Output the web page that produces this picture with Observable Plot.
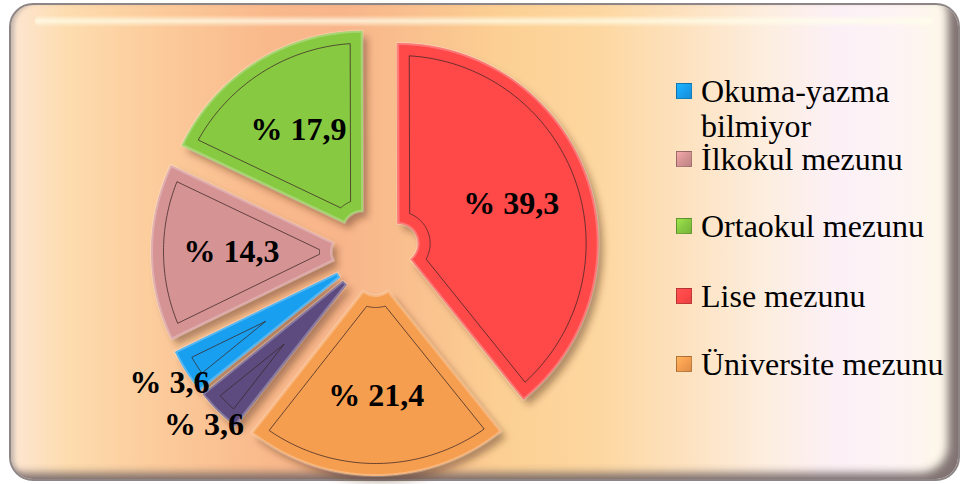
<!DOCTYPE html>
<html>
<head>
<meta charset="utf-8">
<script src="https://cdn.jsdelivr.net/npm/d3@7"></script>
<script src="https://cdn.jsdelivr.net/npm/@observablehq/plot@0.6"></script>
<style>
  html, body { margin: 0; padding: 0; background: #ffffff; }
  #wrap { position: relative; width: 965px; height: 484px; overflow: hidden; }
  #panel {
    position: absolute; left: 9px; top: 3px; width: 947px; height: 474px;
    border-radius: 24px; border: 2px solid #8e8686;
    background: linear-gradient(to right, #fde6d2 0%, #fddcae 6%, #fccc9c 15%, #f9b98b 27%, #f8b58a 35%, #fac48f 45%, #fcd094 52%, #fdd7a0 62%, #fde3c2 72%, #fdeee0 80%, #fcf0f6 87%, #fdf3f5 93%, #fdf7ea 98%);
    box-shadow: inset -16px -12px 8px -6px rgba(118,104,104,0.92), inset 5px 0 4px -2px rgba(150,140,140,0.55);
  }
  #hl {
    position: absolute; left: 24px; right: 26px; top: 10px; height: 12px; border-radius: 8px;
    background: linear-gradient(to bottom, rgba(255,255,235,0) 0%, rgba(255,255,235,0.75) 50%, rgba(255,255,235,0) 100%);
  }
  #chart { position: absolute; left: 0; top: 0; }
  .sw { position: absolute; left: 676px; width: 14px; height: 14px; border: 1px solid rgba(0,0,0,0.25); }
  .tx { position: absolute; left: 701px; font-family: "Liberation Serif", "Times New Roman", serif; font-size: 32px; color: #000; white-space: nowrap; }
</style>
</head>
<body>
<div id="wrap">
  <div id="panel"><div id="hl"></div></div>
  <div id="chart"></div>
  <div id="legend"></div>
</div>
<script>
// ---- data ----
const categories = ["Okuma-yazma bilmiyor", "İlkokul mezunu", "Ortaokul mezunu", "Lise mezunu", "Üniversite mezunu", "Lisansüstü"];
const values = [3.6, 14.3, 17.9, 39.3, 21.4, 3.6];
const colors = ["#189ff0", "#d69394", "#88c942", "#ff4848", "#f69e50", "#5d4b80"];
const legendCategories = ["Okuma-yazma bilmiyor", "İlkokul mezunu", "Ortaokul mezunu", "Lise mezunu", "Üniversite mezunu"];

// ---- layout ----
const W = 965, H = 484;
const CX = 375, CY = 251, R = 200, R0 = 20, EXPLODE = 24, INSET = 12;
const ROT = 231.1 * Math.PI / 180;

const total = d3.sum(values);
let acc = 0;
const slices = categories.map((c, i) => {
  const a0 = ROT + acc / total * 2 * Math.PI;
  acc += values[i];
  const a1 = ROT + acc / total * 2 * Math.PI;
  const m = (a0 + a1) / 2;
  return {category: c, value: values[i], color: colors[i], a0, a1, m,
          cx: CX + EXPLODE * Math.sin(m), cy: CY - EXPLODE * Math.cos(m)};
});

const pt = (s, r, a) => [s.cx + r * Math.sin(a), s.cy - r * Math.cos(a)];
function arcPts(s, r, from, to) {
  const n = Math.max(2, Math.ceil(Math.abs(to - from) / (Math.PI / 180)));
  return d3.range(n + 1).map(k => pt(s, r, from + (to - from) * k / n));
}

// outer shape points
const outerPts = [];
slices.forEach((s, i) => {
  const ps = [...arcPts(s, R, s.a0, s.a1), ...arcPts(s, R0, s.a1, s.a0)];
  ps.forEach(([x, y]) => outerPts.push({id: i, x, y, color: s.color}));
});

// inset outline points
const innerPts = [];
slices.forEach((s, i) => {
  const half = (s.a1 - s.a0) / 2;
  const Ro = R - INSET, Rmin = R0 + INSET;
  const dOut = Math.asin(INSET / Ro);
  let ps = arcPts(s, Ro, s.a0 + dOut, s.a1 - dOut);
  const apex = INSET / Math.sin(half);
  if (apex >= Rmin) {
    ps.push(pt(s, apex, s.m));
  } else {
    const dIn = Math.asin(INSET / Rmin);
    ps = ps.concat(arcPts(s, Rmin, s.a1 - dIn, s.a0 + dIn));
  }
  ps.forEach(([x, y]) => innerPts.push({id: i, x, y}));
});

// labels
const fmt = v => "% " + v.toFixed(1).replace(".", ",");
const labels = slices.map(s => {
  const r = s.value < 5 ? 1.1 * R : 0.6 * R;
  const [x, y] = pt(s, r, s.m);
  return {x, y, text: fmt(s.value)};
});

const chart = Plot.plot({
  width: W, height: H, margin: 0,
  x: {domain: [0, W], range: [0, W], axis: null},
  y: {domain: [0, H], range: [0, H], axis: null},
  color: {type: "identity"},
  style: {background: "transparent", overflow: "visible"},
  marks: [
    Plot.line(outerPts, {x: "x", y: "y", z: "id", fill: "#4a2810", fillOpacity: 0.42, stroke: "none", dx: 5, dy: 6, curve: "linear-closed"}),
    Plot.line(outerPts, {x: "x", y: "y", z: "id", fill: "color", stroke: "color", strokeWidth: 1, curve: "linear-closed"}),
    Plot.line(outerPts, {x: "x", y: "y", z: "id", stroke: "#ffffff", strokeOpacity: 0.25, strokeWidth: 3, curve: "linear-closed"}),
    Plot.line(innerPts, {x: "x", y: "y", z: "id", stroke: "#3b2626", strokeOpacity: 0.75, strokeWidth: 1, curve: "linear-closed"}),
    Plot.text(labels, {x: "x", y: "y", text: "text", fontSize: 32, fontWeight: "bold", fontFamily: "Liberation Serif, Times New Roman, serif", fill: "#000"})
  ]
});

// soft blur on the shadow layer (first line mark)
const svg = d3.select(chart);
const defs = svg.insert("defs", ":first-child");
defs.append("filter").attr("id", "sblur").attr("x", "-10%").attr("y", "-10%").attr("width", "120%").attr("height", "120%")
  .append("feGaussianBlur").attr("stdDeviation", 3.5);
const lineGroups = svg.selectAll('g[aria-label="line"]').nodes();
if (lineGroups.length) d3.select(lineGroups[0]).attr("filter", "url(#sblur)");
document.getElementById("chart").appendChild(chart);

// legend (baselines of each entry's first line, in px)
const legBaselines = [102, 170, 237, 307, 375];
const legend = document.getElementById("legend");
legendCategories.forEach((c, i) => {
  const idx = categories.indexOf(c);
  const b = legBaselines[i];
  const sw = document.createElement("div");
  sw.className = "sw";
  sw.style.top = (b - 19) + "px";
  sw.style.background = `linear-gradient(135deg, ${d3.color(colors[idx]).brighter(0.4)}, ${colors[idx]} 50%, ${d3.color(colors[idx]).darker(0.3)})`;
  const tx = document.createElement("div");
  tx.className = "tx";
  const twoLine = c === "Okuma-yazma bilmiyor";
  tx.style.lineHeight = twoLine ? "35px" : "30px";
  tx.style.top = (b - (twoLine ? 28.3 : 25.6)) + "px";
  tx.innerHTML = twoLine ? "Okuma-yazma<br>bilmiyor" : c;
  legend.appendChild(sw); legend.appendChild(tx);
});
</script>
</body>
</html>
